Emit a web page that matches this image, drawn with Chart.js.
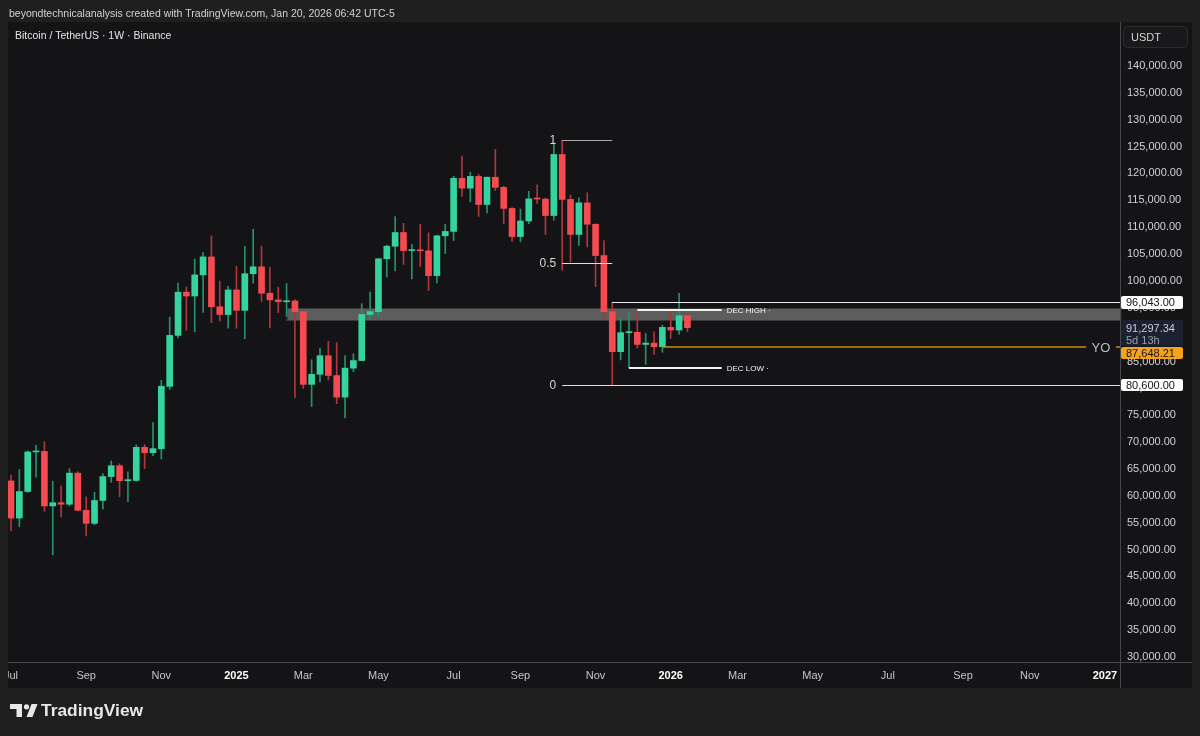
<!DOCTYPE html>
<html>
<head>
<meta charset="utf-8">
<script src="https://cdn.jsdelivr.net/npm/chart.js@4.4.1/dist/chart.umd.min.js"></script>
<style>
  html, body { margin: 0; padding: 0; background: #1f1f1f; }
  #wrap { width: 1200px; height: 736px; }
</style>
</head>
<body>
<div id="wrap"><canvas id="chart" width="1200" height="736"></canvas></div>
<script>
// Weekly BTC/USDT candles, x index 0 = week of Jul 1 2024
const openP = [
  62773, 55857, 60797, 68165, 68255, 58116, 58712, 58427, 64220, 57301,
  54869, 59132, 63578, 65603, 62819, 62851, 69032, 68022, 68775, 80370,
  89855, 97900, 97185, 101109, 104463, 95186, 93738, 98314, 94516, 101335,
  102620, 97700, 96462, 96118, 96258, 94270, 80734, 82610, 86082, 82390,
  78368, 83760, 85170, 93750, 94277, 104118, 106454, 109004, 105642, 105734,
  105594, 100963, 108385, 109203, 119086, 117265, 119448, 114208, 119294, 117405,
  113493, 108246, 111144, 115268, 115232, 112163, 123529, 115166, 108642, 114530,
  110540, 104720, 94260, 86830, 90360, 90430, 88170, 88420, 87750, 91350,
  90850, 93520
];
const highP = [
  63861, 64900, 68366, 69399, 70079, 62745, 61800, 65050, 64480, 59810,
  60670, 64133, 66498, 65970, 64478, 69500, 69520, 73620, 81500, 93265,
  99588, 98871, 104088, 105250, 108353, 99963, 98976, 102724, 106422, 109588,
  106457, 102500, 98826, 99475, 96500, 94416, 85309, 87453, 88765, 88500,
  86100, 86429, 95758, 97895, 104145, 106660, 111980, 110718, 106800, 110530,
  108952, 108528, 110529, 119488, 123218, 120247, 119800, 119311, 124474, 117631,
  113650, 113384, 116665, 117900, 115400, 125708, 126200, 115970, 115466, 116400,
  110600, 107500, 96043, 93092, 94150, 94590, 90200, 90540, 91780, 94590,
  97700, 93700
];
const lowP = [
  53485, 54260, 60632, 63456, 57122, 49000, 56078, 58119, 57201, 52550,
  54585, 57493, 62538, 59828, 58895, 62700, 65060, 67478, 66835, 79800,
  89376, 90791, 90500, 94150, 92232, 92500, 91220, 91200, 89256, 99550,
  96150, 91231, 94088, 93388, 78258, 80000, 76606, 81180, 81565, 77153,
  74508, 83111, 85144, 92800, 93377, 100718, 101840, 103068, 100372, 102664,
  98200, 99613, 105100, 107500, 115736, 114723, 112000, 112650, 116803, 110680,
  107350, 107270, 110620, 114400, 108620, 111300, 102000, 103528, 106600, 106304,
  98944, 93005, 80600, 85300, 83822, 87500, 84450, 86330, 86700, 89300,
  90100, 90540
];
const closeP = [
  55857, 60797, 68165, 68255, 58116, 58712, 58427, 64220, 57301, 54869,
  59132, 63578, 65603, 62819, 62851, 69032, 68022, 68775, 80370, 89855,
  97900, 97185, 101109, 104463, 95186, 93738, 98314, 94516, 101335, 102620,
  97700, 96462, 96118, 96258, 94270, 80734, 82610, 86082, 82390, 78368,
  83760, 85170, 93750, 94277, 104118, 106454, 109004, 105642, 105734, 105594,
  100963, 108385, 109203, 119086, 117265, 119448, 114208, 119294, 117405, 113493,
  108246, 111144, 115268, 115232, 112163, 123529, 115166, 108642, 114530, 110540,
  104720, 94260, 86830, 90360, 90430, 88170, 88420, 87750, 91350, 90850,
  93520, 91297.34
];

// time axis labels (week index of first bar of each labelled month)
const monthTickIdx = [0, 9, 18, 27, 35, 44, 53, 61, 70, 79, 87, 96, 105, 114, 122, 131];
const monthTickLabels = ['Jul', 'Sep', 'Nov', '2025', 'Mar', 'May', 'Jul', 'Sep', 'Nov', '2026', 'Mar', 'May', 'Jul', 'Sep', 'Nov', '2027'];
const priceTicks = [30000, 35000, 40000, 45000, 50000, 55000, 60000, 65000, 70000, 75000, 80000, 85000,
  90000, 95000, 100000, 105000, 110000, 115000, 120000, 125000, 130000, 135000, 140000, 145000];

// drawings
const fibLevels = [126200, 103400, 80600];
const fibLabels = ['1', '0.5', '0'];
const fibStartIdx = 66;
const fibEndIdx = 72;
const rangeHigh = 96043;
const rangeStartIdx = 72;
const decHigh = 94590;
const decHighIdx = 75;
const decLow = 83822;
const decLowIdx = 74;
const decEndIdx = 85.1;
const yearOpen = 87648.21;
const yearOpenIdx = 78;
const zoneTop = 94890;
const zoneBottom = 92580;
const zoneStartIdx = 33;
const lastPrice = 91297.34;

const GREEN = '#35d49e';
const RED = '#f44a50';
const GREEN_WICK = '#27916d';
const RED_WICK = '#ad373c';
const PANEL = '#141416';
const OUTER = '#1f1f1f';

const fmt = new Intl.NumberFormat('en-US', { minimumFractionDigits: 2, maximumFractionDigits: 2 });

const idx = openP.map((_, i) => i);
const up = idx.map(i => closeP[i] >= openP[i]);

Chart.defaults.font.family = "'Liberation Sans', Arial, sans-serif";

const tvLayer = {
  id: 'tvLayer',
  beforeDraw(chart) {
    const c = chart.ctx;
    c.save();
    c.fillStyle = OUTER;
    c.fillRect(0, 0, 1200, 736);
    c.fillStyle = PANEL;
    c.fillRect(8, 22, 1184, 666);
    c.restore();
  },
  beforeDatasetsDraw(chart) {
    const c = chart.ctx, xs = chart.scales.x, ys = chart.scales.y, ca = chart.chartArea;
    const x1 = xs.getPixelForValue(zoneStartIdx);
    const yT = ys.getPixelForValue(zoneTop), yB = ys.getPixelForValue(zoneBottom);
    c.save();
    c.fillStyle = 'rgba(135,135,135,0.64)';
    c.fillRect(x1, yT, ca.right - x1, yB - yT);
    c.strokeStyle = '#3a3a3a';
    c.lineWidth = 1;
    c.strokeRect(Math.round(x1) + 0.5, Math.round(yT) + 0.5, ca.right - x1, Math.round(yB - yT));
    c.restore();
  },
  afterDatasetsDraw(chart) {
    const c = chart.ctx, xs = chart.scales.x, ys = chart.scales.y, ca = chart.chartArea;
    const X = v => xs.getPixelForValue(v);
    const Y = v => Math.round(ys.getPixelForValue(v)) + 0.5;
    c.save();
    c.lineWidth = 1;
    // fib levels
    fibLevels.forEach((lv, i) => {
      const xEnd = i === 2 ? ca.right : X(fibEndIdx);
      c.strokeStyle = i === 0 ? '#a8a8a8' : '#dedede';
      c.beginPath(); c.moveTo(X(fibStartIdx), Y(lv)); c.lineTo(xEnd, Y(lv)); c.stroke();
      c.fillStyle = '#d6d6d6';
      c.font = "12px 'Liberation Sans', Arial, sans-serif";
      c.textAlign = 'right'; c.textBaseline = 'middle';
      c.fillText(fibLabels[i], X(fibStartIdx) - 6, Y(lv));
    });
    // range high
    c.strokeStyle = '#ececec';
    c.beginPath(); c.moveTo(X(rangeStartIdx), Y(rangeHigh)); c.lineTo(ca.right, Y(rangeHigh)); c.stroke();
    // dec high / low
    c.lineWidth = 2;
    c.strokeStyle = '#f2f2f2';
    const yH = Math.round(ys.getPixelForValue(decHigh));
    const yL = Math.round(ys.getPixelForValue(decLow));
    c.beginPath(); c.moveTo(X(decHighIdx), yH); c.lineTo(X(decEndIdx), yH); c.stroke();
    c.beginPath(); c.moveTo(X(decLowIdx), yL); c.lineTo(X(decEndIdx), yL); c.stroke();
    c.fillStyle = '#f2f2f2';
    c.font = "8px 'Liberation Sans', Arial, sans-serif";
    c.textAlign = 'left'; c.textBaseline = 'middle';
    c.fillText('DEC HIGH \u00b7', X(decEndIdx) + 5, yH + 1);
    c.fillText('DEC LOW \u00b7', X(decEndIdx) + 5, yL + 1);
    // yearly open
    c.lineWidth = 1.5;
    c.strokeStyle = '#d48510';
    const yo = Math.round(ys.getPixelForValue(yearOpen));
    c.beginPath(); c.moveTo(X(yearOpenIdx), yo); c.lineTo(ca.right - 34, yo); c.stroke();
    c.beginPath(); c.moveTo(ca.right - 4, yo); c.lineTo(ca.right, yo); c.stroke();
    c.fillStyle = '#b9bcc4';
    c.font = "13px 'Liberation Sans', Arial, sans-serif";
    c.textAlign = 'center';
    c.fillText('YO', ca.right - 19, yo + 1);
    c.restore();
  },
  afterDraw(chart) {
    const c = chart.ctx, ys = chart.scales.y, ca = chart.chartArea;
    c.save();
    // axis borders
    c.strokeStyle = '#474747';
    c.lineWidth = 1;
    c.beginPath(); c.moveTo(8, ca.bottom + 0.5); c.lineTo(1192, ca.bottom + 0.5); c.stroke();
    c.beginPath(); c.moveTo(ca.right + 0.5, 22); c.lineTo(ca.right + 0.5, 688); c.stroke();

    const box = (cy, h, bg) => {
      c.fillStyle = bg;
      c.beginPath();
      c.roundRect(ca.right + 1, Math.round(cy - h / 2), 62, h, 2);
      c.fill();
    };
    c.font = "11px 'Liberation Sans', Arial, sans-serif";
    c.textAlign = 'left'; c.textBaseline = 'middle';
    // range high label
    let y = ys.getPixelForValue(rangeHigh);
    box(y, 13, '#ffffff');
    c.fillStyle = '#131313'; c.fillText(fmt.format(rangeHigh), ca.right + 6, y + 0.5);
    // last price label
    y = ys.getPixelForValue(lastPrice);
    c.fillStyle = '#1b2131';
    c.fillRect(ca.right + 1, Math.round(y) - 8, 62, 26);
    c.fillStyle = '#c9ccd4'; c.fillText(fmt.format(lastPrice), ca.right + 6, Math.round(y) + 0.5);
    c.fillStyle = '#9a9ea8'; c.fillText('5d 13h', ca.right + 6, Math.round(y) + 12.5);
    // yearly open label (pushed below the last price label)
    y = Math.round(y) + 18 + 7;
    box(y, 12, '#f7a21b');
    c.fillStyle = '#131313'; c.fillText(fmt.format(yearOpen), ca.right + 6, y + 0.5);
    // fib 0 label
    y = ys.getPixelForValue(fibLevels[2]);
    box(y, 12, '#ffffff');
    c.fillStyle = '#131313'; c.fillText(fmt.format(fibLevels[2]), ca.right + 6, y + 0.5);

    // currency box
    c.fillStyle = '#19191b';
    c.strokeStyle = '#2e2e30';
    c.beginPath(); c.roundRect(1123.5, 26.5, 64, 21, 4); c.fill(); c.stroke();
    c.fillStyle = '#d4d4d4';
    c.fillText('USDT', 1131, 37.5);

    // left strip
    c.fillStyle = OUTER;
    c.fillRect(0, 22, 8, 666);

    // header texts
    c.fillStyle = '#d2d2d2';
    c.font = "10.5px 'Liberation Sans', Arial, sans-serif";
    c.fillText('beyondtechnicalanalysis created with TradingView.com, Jan 20, 2026 06:42 UTC-5', 9, 14);
    c.fillStyle = '#e4e4e4';
    c.fillText('Bitcoin / TetherUS \u00b7 1W \u00b7 Binance', 15, 36);

    // TradingView logo
    c.fillStyle = '#e8e8e8';
    c.fillRect(10, 704, 12, 5);
    c.fillRect(16.5, 704, 5.5, 13);
    c.beginPath(); c.arc(26.5, 706.8, 2.6, 0, Math.PI * 2); c.fill();
    c.beginPath();
    c.moveTo(26.5, 717); c.lineTo(32.5, 717); c.lineTo(37.5, 704); c.lineTo(31.5, 704); c.closePath(); c.fill();
    c.font = "bold 18px 'Liberation Sans', Arial, sans-serif";
    const w = c.measureText('TradingView').width;
    const size = 18 * 102 / w;
    c.font = 'bold ' + size.toFixed(1) + "px 'Liberation Sans', Arial, sans-serif";
    c.fillText('TradingView', 41, 711);
    c.restore();
  }
};

new Chart(document.getElementById('chart'), {
  type: 'bar',
  data: {
    datasets: [
      {
        label: 'body',
        data: idx.map(i => ({ x: i, y: [openP[i], closeP[i]] })),
        backgroundColor: up.map(u => u ? GREEN : RED),
        barThickness: 6,
        minBarLength: 1,
        grouped: false,
        order: 0
      },
      {
        label: 'wick',
        data: idx.map(i => ({ x: i, y: [lowP[i], highP[i]] })),
        backgroundColor: up.map(u => u ? GREEN_WICK : RED_WICK),
        barThickness: 1,
        grouped: false,
        order: 1
      }
    ]
  },
  options: {
    responsive: false,
    animation: false,
    devicePixelRatio: 1,
    layout: { padding: { left: 8, top: 22, right: 8, bottom: 48 } },
    plugins: { legend: { display: false }, tooltip: { enabled: false } },
    scales: {
      x: {
        type: 'linear',
        min: -0.36,
        max: 132.8,
        offset: false,
        grid: { display: false, drawTicks: false },
        border: { display: false },
        afterBuildTicks: s => { s.ticks = monthTickIdx.map(v => ({ value: v })); },
        afterFit: s => { s.height = 26; s.paddingLeft = 0; s.paddingRight = 0; },
        ticks: {
          autoSkip: false,
          maxRotation: 0,
          padding: 7,
          callback: (v, i) => monthTickLabels[i],
          color: ctx => /^\d/.test(monthTickLabels[ctx.index]) ? '#ffffff' : '#c3c6cc',
          font: ctx => ({ size: 11, weight: /^\d/.test(monthTickLabels[ctx.index]) ? 'bold' : 'normal' })
        }
      },
      y: {
        type: 'linear',
        position: 'right',
        min: 29069,
        max: 148182,
        grid: { display: false, drawTicks: false },
        border: { display: false },
        afterBuildTicks: s => { s.ticks = priceTicks.map(v => ({ value: v })); },
        afterFit: s => { s.width = 72; s.paddingTop = 0; s.paddingBottom = 0; },
        ticks: {
          autoSkip: false,
          padding: 7,
          color: '#cfd1d6',
          font: { size: 11 },
          callback: v => fmt.format(v)
        }
      }
    }
  },
  plugins: [tvLayer]
});
</script>
</body>
</html>
